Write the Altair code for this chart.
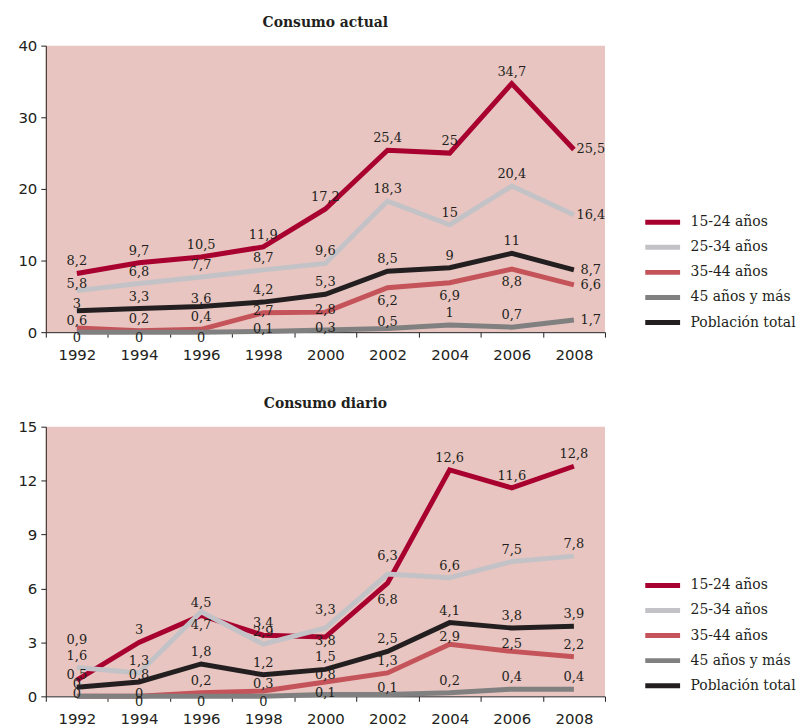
import altair as alt
import pandas as pd

YEARS = ["1992", "1994", "1996", "1998", "2000", "2002", "2004", "2006", "2008"]
SERIES = ["15-24 años", "25-34 años", "35-44 años", "45 años y más", "Población total"]
COLORS = ["#a8002f", "#c3c3c7", "#c4535a", "#808080", "#231f20"]

# Consumo actual
ACTUAL_15_24 = [8.2, 9.7, 10.5, 11.9, 17.2, 25.4, 25, 34.7, 25.5]
ACTUAL_25_34 = [5.8, 6.8, 7.7, 8.7, 9.6, 18.3, 15, 20.4, 16.4]
ACTUAL_35_44 = [0.6, 0.2, 0.4, 2.7, 2.8, 6.2, 6.9, 8.8, 6.6]
ACTUAL_45_MAS = [0, 0, 0, 0.1, 0.3, 0.5, 1, 0.7, 1.7]
ACTUAL_TOTAL = [3, 3.3, 3.6, 4.2, 5.3, 8.5, 9, 11, 8.7]

# Consumo diario
DIARIO_15_24 = [0.9, 3, 4.5, 3.4, 3.3, 6.3, 12.6, 11.6, 12.8]
DIARIO_25_34 = [1.6, 1.3, 4.7, 2.9, 3.8, 6.8, 6.6, 7.5, 7.8]
DIARIO_35_44 = [0, 0, 0.2, 0.3, 0.8, 1.3, 2.9, 2.5, 2.2]
DIARIO_45_MAS = [0, 0, 0, 0, 0.1, 0.1, 0.2, 0.4, 0.4]
DIARIO_TOTAL = [0.5, 0.8, 1.8, 1.2, 1.5, 2.5, 4.1, 3.8, 3.9]

# label placement codes (a=above, b=below, r=right, ...)
PLACE_ACTUAL = ["aaaaaaaar", "caaaaaaar", "caazzbbbr", "dddzzcaar", "cacaaaaar"]
PLACE_DIARIO = ["TaaaAAaaa", "aababBaaa", "azaccacca", "zdddzcaaa", "acaaaaaaa"]
DY = {"a": -12, "A": -27, "T": -40, "b": 13, "B": 26, "c": -7, "z": -2, "d": 6, "r": 0}

SERIF = "DejaVu Serif"
SANS = "DejaVu Sans"


def fmt(v):
    return f"{v:g}".replace(".", ",")


def build_df(lists, places):
    rows = []
    for s, vals, pl in zip(SERIES, lists, places):
        for y, v, p in zip(YEARS, vals, pl):
            rows.append(dict(year=y, serie=s, value=v, label=fmt(v), pos=p))
    return pd.DataFrame(rows)


def panel(df, title, ymax, step, height, legend_y):
    x = alt.X(
        "year:O", sort=YEARS, bandPosition=0.5,
        scale=alt.Scale(type="band", paddingInner=0, paddingOuter=0),
        axis=alt.Axis(title=None, labelAngle=0, tickBand="extent", labelPadding=10),
    )
    y = alt.Y(
        "value:Q",
        scale=alt.Scale(domain=[0, ymax], nice=False),
        axis=alt.Axis(title=None, values=list(range(0, ymax + 1, step)), grid=False, labelPadding=4),
    )
    lines = alt.Chart(df).mark_line(strokeWidth=5, strokeJoin="miter").encode(
        x=x, y=y,
        color=alt.Color(
            "serie:N", sort=SERIES,
            scale=alt.Scale(domain=SERIES, range=COLORS),
            legend=alt.Legend(
                title=None, orient="none", legendX=600, legendY=legend_y,
                symbolType="stroke", symbolStrokeWidth=5, symbolSize=1225,
                labelFont=SERIF, labelFontSize=14, labelColor="#231f20",
                labelOffset=8, rowPadding=10.2, clipHeight=15, padding=0,
            ),
        ),
    )
    texts = []
    for code in sorted(set("".join(PLACE_ACTUAL + PLACE_DIARIO))):
        texts.append(
            alt.Chart(df).transform_filter(alt.datum.pos == code).mark_text(
                dy=DY[code], dx=(17 if code == "r" else 0), font=SERIF, fontSize=13,
                color="#231f20", baseline="middle",
            ).encode(x=x, y=y, text="label:N")
        )
    return alt.layer(lines, *texts).properties(
        width=562, height=height,
        title=alt.TitleParams(title, font=SERIF, fontWeight="bold", fontSize=14,
                              anchor="middle", offset=9, color="#231f20"),
    )


df_actual = build_df([ACTUAL_15_24, ACTUAL_25_34, ACTUAL_35_44, ACTUAL_45_MAS, ACTUAL_TOTAL], PLACE_ACTUAL)
df_diario = build_df([DIARIO_15_24, DIARIO_25_34, DIARIO_35_44, DIARIO_45_MAS, DIARIO_TOTAL], PLACE_DIARIO)

p1 = panel(df_actual, "Consumo actual", 40, 10, 288, 170)
p2 = panel(df_diario, "Consumo diario", 15, 3, 271, 152)

chart = alt.vconcat(p1, p2, spacing=35).resolve_scale(color="independent").resolve_legend(
    color="independent"
).properties(
    padding={"left": 9, "top": 6, "right": 0, "bottom": 0}
).configure_view(
    fill="#e8c5c0", stroke=None
).configure_axis(
    domainColor="#231f20", tickColor="#231f20", labelColor="#231f20",
    labelFont=SANS, labelFontSize=15, tickSize=5, domainWidth=1,
)

chart.save("out.html", embed_options={"renderer": "svg", "actions": False})
